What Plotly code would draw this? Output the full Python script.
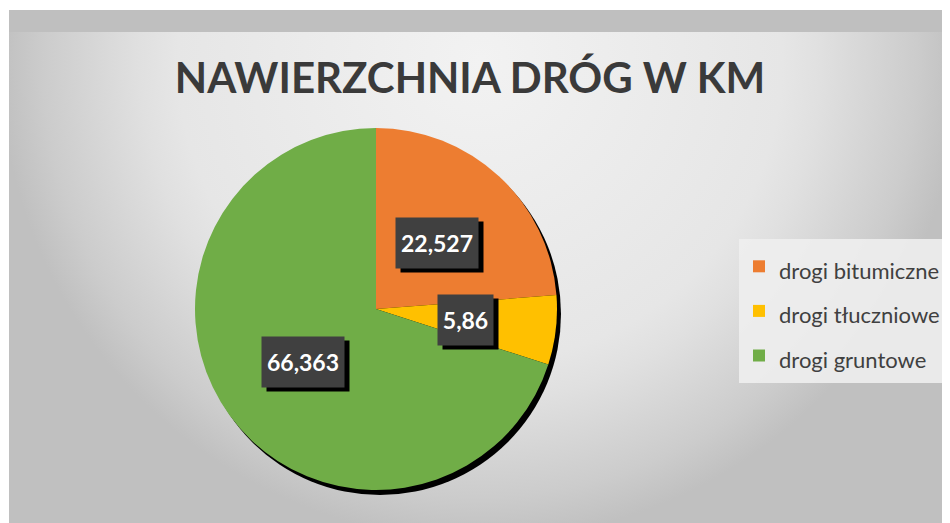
import math, base64
import plotly.graph_objects as go

# ---- data ----
categories = ["drogi bitumiczne", "drogi tłuczniowe", "drogi gruntowe"]
values_km = [22.527, 5.86, 66.363]
colors = ["#ED7D31", "#FFC000", "#70AD47"]
title_text = "NAWIERZCHNIA DRÓG W KM"

W, H = 950, 523
FONT = "Lato"

# pie geometry (pixels, figure space)
pcx, pcy, pr = 368, 301, 181
dom_x = [(pcx - pr) / W, (pcx + pr) / W]
dom_y = [(H - (pcy + pr)) / H, (H - (pcy - pr)) / H]
sh_dx, sh_dy = 4, 5
dom_x_sh = [(pcx - pr + sh_dx) / W, (pcx + pr + sh_dx) / W]
dom_y_sh = [(H - (pcy + pr + sh_dy)) / H, (H - (pcy - pr + sh_dy)) / H]

# background gradient as svg
svg = f'''<svg xmlns="http://www.w3.org/2000/svg" width="{W}" height="{H}" viewBox="0 0 {W} {H}">
<defs><radialGradient id="g" gradientUnits="userSpaceOnUse" cx="472" cy="52" r="480">
<stop offset="0" stop-color="#f2f2f2"/>
<stop offset="0.63" stop-color="#e6e6e6"/>
<stop offset="0.71" stop-color="#e0e0e0"/>
<stop offset="0.91" stop-color="#cccccc"/>
<stop offset="1" stop-color="#c0c0c0"/>
</radialGradient></defs>
<rect x="0" y="0" width="{W}" height="{H}" fill="#ffffff"/>
<rect x="1" y="2" width="{W-1}" height="{H-2}" fill="url(#g)"/>
<rect x="1" y="2" width="{W-1}" height="22" fill="#bfbfbf"/>
</svg>'''
bg_src = "data:image/svg+xml;base64," + base64.b64encode(svg.encode()).decode()

fig = go.Figure()
# shadow pie
fig.add_trace(go.Pie(
    values=[sum(values_km)], labels=["shadow"], marker=dict(colors=["#000000"]),
    domain=dict(x=dom_x_sh, y=dom_y_sh), textinfo="none", hoverinfo="skip",
    showlegend=False, sort=False))
# main pie
fig.add_trace(go.Pie(
    values=values_km,
    labels=[f'<span style="font-size:22px">{c}</span>' for c in categories],
    marker=dict(colors=colors, line=dict(width=0)),
    domain=dict(x=dom_x, y=dom_y), textinfo="none", hoverinfo="value",
    direction="clockwise", rotation=0, sort=False, showlegend=True))

# value label boxes at half radius of slice mid-angle
total = sum(values_km)
cum = 0.0
cx_p, cy_p = (dom_x[0] + dom_x[1]) / 2, (dom_y[0] + dom_y[1]) / 2
rx_p, ry_p = pr / W, pr / H
anns = []
for v in values_km:
    mid = (cum + v / 2) / total * 2 * math.pi
    cum += v
    x = cx_p + 0.5 * rx_p * math.sin(mid)
    y = cy_p + 0.5 * ry_p * math.cos(mid)
    txt = f"{v:g}".replace(".", ",")
    bw = 13.5 * len(txt) + 1
    common = dict(x=x, y=y, xref="paper", yref="paper", showarrow=False,
                  width=bw, height=50, borderpad=0, xanchor="center", yanchor="middle")
    anns.append(dict(**common, text="&nbsp;", bgcolor="#000000", xshift=5, yshift=-4,
                     font=dict(family=FONT, size=22, color="#000000")))
    anns.append(dict(**common, text=txt, bgcolor="#404040",
                     font=dict(family=FONT, size=23, color="#ffffff", weight="bold")))

fig.update_layout(
    width=W, height=H, margin=dict(l=0, r=0, t=0, b=0, autoexpand=False),
    paper_bgcolor="#ffffff", plot_bgcolor="rgba(0,0,0,0)",
    images=[dict(source=bg_src, xref="paper", yref="paper", x=0, y=1, sizex=1, sizey=1,
                 xanchor="left", yanchor="top", sizing="stretch", layer="below")],
    title=dict(text=f"<b>{title_text}</b>", x=462 / W, y=1 - 70 / H, xanchor="center", yanchor="middle",
               font=dict(family=FONT, size=42, color="#3a3a3a")),
    legend=dict(x=731 / W, y=1 - 231 / H, xanchor="left", yanchor="top",
                bgcolor="rgba(238,238,238,0.9)", font=dict(family=FONT, size=32, color="#404040"),
                borderwidth=0),
    annotations=anns,
)

fig.write_html("out.html")
